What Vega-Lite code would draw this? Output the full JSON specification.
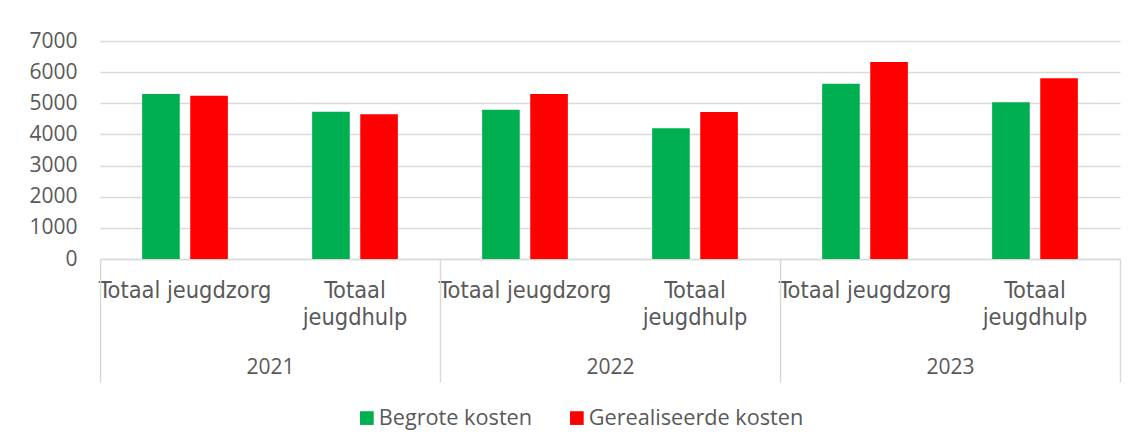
{
  "$schema": "https://vega.github.io/schema/vega-lite/v6.json",
  "autosize": "none",
  "width": 1020,
  "height": 218,
  "padding": {"left": 100, "top": 41, "right": 16, "bottom": 188},
  "background": "white",
  "data": {
    "values": [
      {"jaar": "2021", "categorie": "Totaal jeugdzorg", "groep": "2021|Totaal jeugdzorg", "reeks": "Begrote kosten", "kosten": 5300},
      {"jaar": "2021", "categorie": "Totaal jeugdzorg", "groep": "2021|Totaal jeugdzorg", "reeks": "Gerealiseerde kosten", "kosten": 5245},
      {"jaar": "2021", "categorie": "Totaal jeugdhulp", "groep": "2021|Totaal jeugdhulp", "reeks": "Begrote kosten", "kosten": 4730},
      {"jaar": "2021", "categorie": "Totaal jeugdhulp", "groep": "2021|Totaal jeugdhulp", "reeks": "Gerealiseerde kosten", "kosten": 4645},
      {"jaar": "2022", "categorie": "Totaal jeugdzorg", "groep": "2022|Totaal jeugdzorg", "reeks": "Begrote kosten", "kosten": 4795},
      {"jaar": "2022", "categorie": "Totaal jeugdzorg", "groep": "2022|Totaal jeugdzorg", "reeks": "Gerealiseerde kosten", "kosten": 5300},
      {"jaar": "2022", "categorie": "Totaal jeugdhulp", "groep": "2022|Totaal jeugdhulp", "reeks": "Begrote kosten", "kosten": 4195},
      {"jaar": "2022", "categorie": "Totaal jeugdhulp", "groep": "2022|Totaal jeugdhulp", "reeks": "Gerealiseerde kosten", "kosten": 4720},
      {"jaar": "2023", "categorie": "Totaal jeugdzorg", "groep": "2023|Totaal jeugdzorg", "reeks": "Begrote kosten", "kosten": 5630},
      {"jaar": "2023", "categorie": "Totaal jeugdzorg", "groep": "2023|Totaal jeugdzorg", "reeks": "Gerealiseerde kosten", "kosten": 6325},
      {"jaar": "2023", "categorie": "Totaal jeugdhulp", "groep": "2023|Totaal jeugdhulp", "reeks": "Begrote kosten", "kosten": 5030},
      {"jaar": "2023", "categorie": "Totaal jeugdhulp", "groep": "2023|Totaal jeugdhulp", "reeks": "Gerealiseerde kosten", "kosten": 5800}
    ]
  },
  "layer": [
    {
      "mark": {"type": "bar"},
      "encoding": {
        "x": {
          "field": "groep",
          "type": "nominal",
          "sort": null,
          "scale": {"paddingInner": 0, "paddingOuter": 0},
          "axis": {
            "orient": "bottom",
            "title": null,
            "labelAngle": 0,
            "labelExpr": "split(datum.value,'|')[1] == 'Totaal jeugdhulp' ? ['Totaal','jeugdhulp'] : split(datum.value,'|')[1]",
            "labelFont": "DejaVu Sans Condensed, sans-serif",
            "labelFontSize": 23.4,
            "labelLineHeight": 27,
            "labelColor": "#595959",
            "labelPadding": 20,
            "labelLimit": 400,
            "labelBound": false,
            "labelOverlap": false,
            "ticks": false,
            "domain": true,
            "domainColor": "#d9d9d9",
            "domainWidth": 1.5,
            "grid": false
          }
        },
        "xOffset": {
          "field": "reeks",
          "type": "nominal",
          "scale": {"paddingInner": 0.218, "paddingOuter": 0.876}
        },
        "y": {
          "field": "kosten",
          "type": "quantitative",
          "scale": {"domain": [0, 7000], "nice": false},
          "axis": {
            "title": null,
            "values": [0, 1000, 2000, 3000, 4000, 5000, 6000, 7000],
            "format": "d",
            "labelFont": "Open Sans",
            "labelFontSize": 21,
            "labelColor": "#595959",
            "labelPadding": 23,
            "ticks": false,
            "domain": false,
            "grid": true,
            "gridColor": "#d9d9d9",
            "gridWidth": 1.3
          }
        },
        "color": {
          "field": "reeks",
          "type": "nominal",
          "scale": {"domain": ["Begrote kosten", "Gerealiseerde kosten"], "range": ["#00B050", "#FF0000"]},
          "legend": {
            "title": null,
            "orient": "none",
            "direction": "horizontal",
            "legendX": 256,
            "legendY": 366,
            "symbolType": "square",
            "symbolSize": 188,
            "symbolStrokeWidth": 0,
            "labelFont": "Open Sans",
            "labelFontSize": 21.7,
            "labelColor": "#595959",
            "labelOffset": 1,
            "labelLimit": 400,
            "columnPadding": 33
          }
        }
      }
    },
    {
      "mark": {"type": "point", "opacity": 0},
      "encoding": {
        "x": {
          "field": "jaar",
          "type": "nominal",
          "sort": null,
          "scale": {"paddingInner": 0, "paddingOuter": 0},
          "axis": {
            "orient": "bottom",
            "title": null,
            "labelAngle": 0,
            "labelFont": "Open Sans",
            "labelFontSize": 21,
            "labelColor": "#595959",
            "labelPadding": -25.3,
            "ticks": true,
            "tickBand": "extent",
            "tickSize": 123,
            "tickColor": "#d9d9d9",
            "tickWidth": 1.5,
            "domain": false,
            "grid": false
          }
        }
      }
    }
  ],
  "resolve": {"scale": {"x": "independent"}, "axis": {"x": "independent"}},
  "config": {
    "view": {"stroke": null},
    "font": "Open Sans"
  }
}
